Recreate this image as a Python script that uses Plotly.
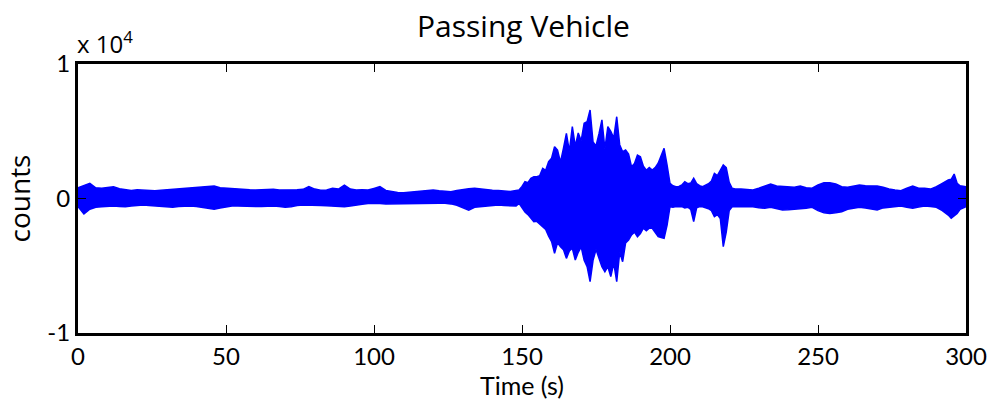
import plotly.graph_objects as go

# Envelope of the seismic trace (time in s, counts)
time_s = [
    0, 2, 4, 6, 8, 10, 12, 14, 16, 18, 20, 22, 24, 26, 28, 30, 32, 34, 36, 38,
    40, 42, 44, 46, 48, 50, 52, 54, 56, 58, 60, 62, 64, 66, 68, 70, 72, 74, 76, 78,
    80, 82, 84, 86, 88, 90, 92, 94, 96, 98, 100, 102, 104, 106, 108, 110, 112, 114, 116, 118,
    120, 122, 124, 126, 128, 130, 132, 134, 136, 138, 140, 142, 144, 146, 148,
    149, 150, 151, 152, 153, 154, 155, 156, 157, 158, 159, 160, 161, 162, 163, 164, 165, 166, 167, 168,
    169, 170, 171, 172, 173, 174, 175, 176, 177, 178, 179, 180, 181, 182, 183, 184, 185, 186, 187, 188,
    189, 190, 191, 192, 193, 194, 195, 196, 197, 198, 199, 200, 201, 202, 203, 204, 205, 206, 207, 208,
    209, 210, 211, 212, 213, 214, 215, 216, 217, 218, 219, 220, 221, 222,
    224, 226, 228, 230, 232, 234, 236, 238, 240, 242, 244, 246, 248, 250, 252, 254, 256, 258, 260, 262,
    264, 266, 268, 270, 272, 274, 276, 278, 280, 282, 284, 286, 288, 290, 292, 294, 295, 296, 297, 298, 300,
]

upper_counts = [
    800, 950, 1130, 800, 760, 820, 880, 720, 680, 600, 650, 630, 600, 580, 620, 650, 680, 700, 740, 760,
    820, 850, 880, 930, 800, 760, 720, 700, 680, 650, 630, 660, 680, 680, 640, 630, 660, 650, 680, 880,
    700, 620, 640, 760, 700, 1000, 700, 640, 650, 630, 750, 880, 600, 520, 450, 430, 480, 510, 560, 600,
    630, 580, 530, 510, 600, 680, 720, 760, 700, 650, 620, 600, 550, 520, 600,
    630, 900, 1250, 1170, 1500, 1620, 1620, 1700, 2240, 2100, 2740, 3000, 3850, 3600, 2700, 3730, 4850, 3500, 5340, 3900,
    4870, 4300, 5590, 5710, 6580, 4200, 3900, 4800, 5840, 3700, 5340, 5000, 4500, 6080, 4000, 3480, 3600, 3300, 2360, 2600,
    3230, 3100, 2400, 2100, 2300, 2120, 2300, 2620, 3200, 3730, 2500, 1130, 950, 880, 900, 1000, 1250, 1100, 1150, 1500,
    1100, 950, 880, 1000, 1100, 1300, 1870, 1700, 2120, 2490, 2300, 1200, 760, 700,
    700, 650, 630, 760, 930, 1080, 930, 880, 850, 830, 930, 800, 760, 1000, 1170, 1170, 1080, 880, 830, 900,
    1000, 950, 930, 930, 830, 700, 630, 580, 760, 930, 760, 760, 700, 880, 1130, 1380, 1430, 1820, 1130, 950, 880,
]

lower_counts = [
    -600, -1150, -800, -650, -610, -580, -560, -600, -610, -560, -500, -480, -520, -560, -600, -620, -650, -600, -580, -560,
    -600, -680, -730, -800, -700, -620, -560, -560, -580, -600, -610, -600, -580, -560, -600, -650, -620, -520, -480, -480,
    -500, -520, -540, -560, -580, -610, -560, -480, -420, -380, -360, -380, -410, -400, -380, -370, -360, -360, -380, -370,
    -360, -360, -360, -400, -500, -700, -860, -650, -600, -560, -500, -480, -520, -560, -560,
    -360, -700, -1000, -1200, -1500, -1720, -1700, -1900, -2100, -2300, -2800, -3200, -4080, -3300, -3580, -3800, -4450, -3900, -3700, -4570,
    -4000, -3600, -4600, -5070, -6180, -4600, -3800, -4500, -5070, -5440, -5070, -5810, -4800, -6180, -4000, -4700, -3300, -3090, -2700, -2500,
    -2840, -2600, -2200, -2400, -2200, -2220, -2500, -2840, -2900, -2960, -2000, -610, -650, -600, -620, -600, -700, -650, -800, -1720,
    -700, -600, -620, -700, -760, -900, -1350, -1200, -1500, -3580, -2500, -900, -610, -600,
    -600, -620, -610, -680, -730, -650, -780, -860, -840, -810, -800, -720, -650, -900, -1060, -1110, -1060, -980, -800, -720,
    -650, -700, -780, -860, -700, -650, -600, -560, -650, -730, -640, -560, -600, -650, -900, -1230, -1470, -1300, -1110, -800, -610,
]

x_ticks = [0, 50, 100, 150, 200, 250, 300]
y_ticks = [-10000, 0, 10000]
y_tick_labels = ["-1", "0", "1"]

BLUE = "#0000FF"
FONT = "Lato"
WIDE = "Open Sans"

fig = go.Figure()
fig.add_trace(go.Scatter(
    x=time_s, y=upper_counts, mode="lines",
    line=dict(color=BLUE, width=1.5), hoverinfo="skip", showlegend=False,
))
fig.add_trace(go.Scatter(
    x=time_s, y=lower_counts, mode="lines", fill="tonexty", fillcolor=BLUE,
    line=dict(color=BLUE, width=1.5), hoverinfo="skip", showlegend=False,
))

fig.update_layout(
    width=999, height=408,
    margin=dict(l=78, r=28, t=64, b=75),
    paper_bgcolor="white", plot_bgcolor="white",
    font=dict(family=FONT, size=24, color="black"),
    title=dict(text="Passing Vehicle", x=0.524, xanchor="center",
               y=0.935, yanchor="middle", yref="container",
               font=dict(family=WIDE, size=30, color="black")),
    xaxis=dict(
        range=[0, 300], tickvals=x_ticks, ticks="inside", ticklen=8, tickwidth=1,
        tickcolor="black", showline=True, linecolor="black", linewidth=3,
        mirror="ticks", showgrid=False, zeroline=False,
        tickfont=dict(family=FONT, size=24),
        title=dict(text="Time (s)", standoff=4, font=dict(family=FONT, size=25)),
    ),
    yaxis=dict(
        range=[-10000, 10000], tickvals=y_ticks, ticktext=y_tick_labels,
        ticks="inside", ticklen=8, tickwidth=1, tickcolor="black",
        showline=True, linecolor="black", linewidth=3, mirror="ticks",
        showgrid=False, zeroline=False,
        tickfont=dict(family=FONT, size=24),
        title=dict(text="counts", standoff=10, font=dict(family=WIDE, size=28)),
    ),
    annotations=[dict(
        text="x 10<sup>4</sup>", xref="paper", yref="paper", x=0, y=1,
        xanchor="left", yanchor="bottom", yshift=2, xshift=-3, showarrow=False,
        font=dict(family=WIDE, size=24, color="black"),
    )],
)

fig.write_html("out.html")
